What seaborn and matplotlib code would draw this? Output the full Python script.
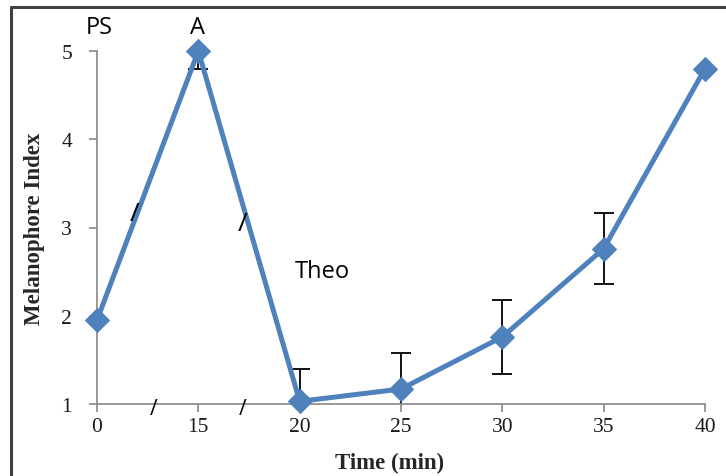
import numpy as np
import pandas as pd
import matplotlib
matplotlib.use("Agg")
import matplotlib.pyplot as plt
import seaborn as sns

# data
time_labels = ["0", "15", "20", "25", "30", "35", "40"]
melanophore = [1.95, 5.0, 1.03, 1.17, 1.76, 2.76, 4.80]
err = [0.0, 0.2, 0.37, 0.41, 0.42, 0.40, 0.0]

df = pd.DataFrame({"pos": np.arange(len(time_labels)), "index": melanophore,
                   "err": err})
eb = df[df["err"] > 0]

sns.set_style("white")
blue = "#4F81BD"
grey = "#878787"

fig = plt.figure(figsize=(7.26, 4.77), dpi=100)
ax = fig.add_axes([97 / 726, 1 - 405 / 477, (705 - 97) / 726, (405 - 52) / 477])

ax.errorbar(eb["pos"], eb["index"], yerr=eb["err"], fmt="none", ecolor="black",
            elinewidth=1.3, capsize=7.5, capthick=1.3, zorder=2, clip_on=True)
sns.lineplot(data=df, x="pos", y="index", ax=ax, color=blue, linewidth=3.6,
             marker="D", markersize=12, markeredgecolor=blue, zorder=3,
             clip_on=False)

ax.set_xlim(0, 6)
ax.set_ylim(1, 5)
ax.set_xticks(df["pos"])
ax.set_xticklabels(time_labels)
ax.set_yticks([1, 2, 3, 4, 5])

for side in ["top", "right"]:
    ax.spines[side].set_visible(False)
for side in ["left", "bottom"]:
    ax.spines[side].set_color(grey)
    ax.spines[side].set_linewidth(1.2)
ax.tick_params(axis="both", direction="out", length=6, width=1.2, color=grey,
               labelsize=15.5, labelcolor="#1a1a1a", left=True, bottom=True)
for lab in ax.get_xticklabels() + ax.get_yticklabels():
    lab.set_fontfamily("Liberation Serif")
ax.tick_params(axis="y", pad=12)
ax.tick_params(axis="x", pad=3)

ax.set_xlabel("Time (min)", fontfamily="Liberation Serif", fontweight="bold",
              fontsize=16.5)
ax.xaxis.set_label_coords(0.482, -0.136)
ax.set_ylabel("Melanophore Index", fontfamily="Liberation Serif",
              fontweight="bold", fontsize=16.5, labelpad=12)

# annotations
ann = dict(fontfamily="Open Sans", fontsize=17, color="black")
ax.text(0.02, 5.27, "PS", ha="center", va="center", clip_on=False, **ann)
ax.text(0.99, 5.27, "A", ha="center", va="center", clip_on=False, **ann)
ax.text(2.22, 2.51, "Theo", ha="center", va="center", **ann)
slash = dict(fontfamily="Open Sans", color="black",
             ha="center", va="center", clip_on=False)
ax.text(0.375, 3.16, "/", fontsize=19, **slash)
ax.text(1.44, 3.04, "/", fontsize=19, **slash)
ax.text(0.563, 0.95, "/", fontsize=15, **slash)
ax.text(1.44, 0.95, "/", fontsize=15, **slash)

# outer frame (top and left edges)
fig.add_artist(plt.Line2D([11 / 726, 11 / 726], [0, 1 - 8 / 477],
                          transform=fig.transFigure, color="#404040", lw=2.2))
fig.add_artist(plt.Line2D([11 / 726, 1], [1 - 8 / 477, 1 - 8 / 477],
                          transform=fig.transFigure, color="#404040", lw=2.2))

fig.savefig("out.png", dpi=100)
